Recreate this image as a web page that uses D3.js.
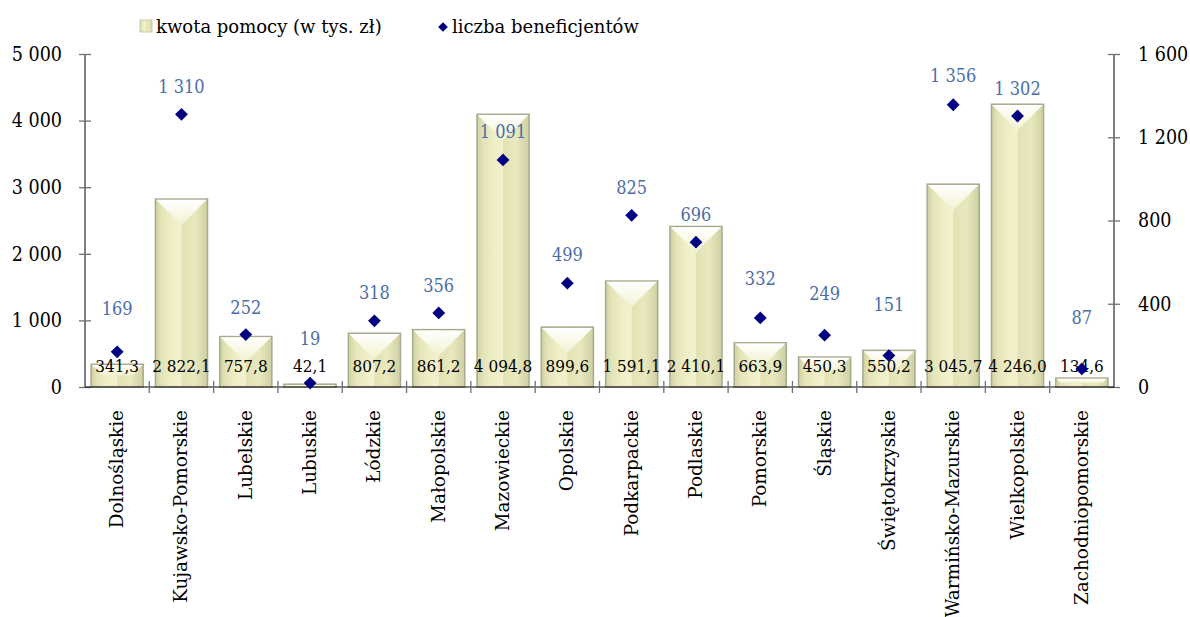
<!DOCTYPE html>
<html>
<head>
<meta charset="utf-8">
<script src="https://cdn.jsdelivr.net/npm/d3@7"></script>
<style>
  body { margin: 0; background: #fff; }
  text { font-family: "DejaVu Serif", serif; }
  .num { font-family: "DejaVu Serif Condensed", "DejaVu Serif", serif; }
</style>
</head>
<body>
<div id="chart"></div>
<script>
// Chart data
var regions = ["Dolnośląskie", "Kujawsko-Pomorskie", "Lubelskie", "Lubuskie", "Łódzkie", "Małopolskie",
  "Mazowieckie", "Opolskie", "Podkarpackie", "Podlaskie", "Pomorskie", "Śląskie",
  "Świętokrzyskie", "Warmińsko-Mazurskie", "Wielkopolskie", "Zachodniopomorskie"];
var amounts = [341.3, 2822.1, 757.8, 42.1, 807.2, 861.2, 4094.8, 899.6, 1591.1, 2410.1, 663.9, 450.3, 550.2, 3045.7, 4246.0, 134.6];
var beneficiaries = [169, 1310, 252, 19, 318, 356, 1091, 499, 825, 696, 332, 249, 151, 1356, 1302, 87];
var leftTicks = [0, 1000, 2000, 3000, 4000, 5000];
var rightTicks = [0, 400, 800, 1200, 1600];
var seriesNames = ["kwota pomocy (w tys. zł)", "liczba beneficjentów"];

// how far each blue label sits above its marker (labels were dragged by hand in the original)
var labelLift = [44, 28, 28, 45, 29, 28, 29, 29, 28, 28, 40, 42, 52, 30, 28, 52];

var svgWidth = 1190;
var svgHeight = 617;
var plotLeft = 85, plotRight = 1114, plotTop = 54, plotBottom = 387;

var pl = d3.formatLocale({ decimal: ",", thousands: "\u00a0", grouping: [3], currency: ["", " zł"] });
var fmtInt = pl.format(",d");
var fmt1 = pl.format(",.1f");

var svg = d3.select("#chart")
  .append("svg")
  .attr("width", svgWidth)
  .attr("height", svgHeight);

var defs = svg.append("defs");

// bar side shading
var barGrad = defs.append("linearGradient").attr("id", "barGrad");
[[0, "#d0d0a2"], [0.12, "#e4e4b8"], [0.3, "#eeeec6"], [0.49, "#f1f1cd"], [0.51, "#e2e2b5"], [0.75, "#e9e9bf"], [1, "#cfcfa2"]]
  .forEach(function (s) {
    barGrad.append("stop").attr("offset", s[0]).attr("stop-color", s[1]);
  });

// top bevel
var topGrad = defs.append("linearGradient").attr("id", "topGrad")
  .attr("x1", 0).attr("y1", 0).attr("x2", 0).attr("y2", 1);
topGrad.append("stop").attr("offset", 0).attr("stop-color", "#ffffff");
topGrad.append("stop").attr("offset", 1).attr("stop-color", "#f2f2d2");

var xScale = d3.scaleBand()
  .domain(regions)
  .range([plotLeft, plotRight])
  .paddingInner(0.19)
  .paddingOuter(0.095);

var yLeft = d3.scaleLinear().domain([0, 5000]).range([plotBottom, plotTop]);
var yRight = d3.scaleLinear().domain([0, 1600]).range([plotBottom, plotTop]);

var step = xScale.step();
var bw = xScale.bandwidth();

// bars
var bars = svg.append("g").selectAll("g")
  .data(amounts)
  .enter()
  .append("g");

bars.append("rect")
  .attr("x", function (d, i) { return xScale(regions[i]); })
  .attr("y", function (d) { return yLeft(d); })
  .attr("width", bw)
  .attr("height", function (d) { return plotBottom - yLeft(d); })
  .attr("fill", "url(#barGrad)")
  .attr("stroke", "#a9a98f")
  .attr("stroke-width", 1.5);

bars.append("polygon")
  .attr("points", function (d, i) {
    var x0 = xScale(regions[i]) + 0.8;
    var y0 = yLeft(d) + 0.8;
    var w = bw - 1.6;
    var h = plotBottom - yLeft(d);
    var dd = Math.min(w / 2, h * 0.45);
    return [[x0, y0], [x0 + w, y0], [x0 + w - dd, y0 + dd], [x0 + dd, y0 + dd]].join(" ");
  })
  .attr("fill", "url(#topGrad)");

// bar value labels
svg.append("g").selectAll("text")
  .data(amounts)
  .enter()
  .append("text")
  .classed("num", true)
  .attr("x", function (d, i) { return xScale(regions[i]) + bw / 2; })
  .attr("y", 372)
  .attr("text-anchor", "middle")
  .attr("font-size", 17)
  .attr("fill", "#000")
  .text(function (d) { return fmt1(d); });

// axes
var leftAxis = d3.axisLeft(yLeft).tickValues(leftTicks).tickFormat(fmtInt).tickSize(6).tickPadding(17);
var rightAxis = d3.axisRight(yRight).tickValues(rightTicks).tickFormat(fmtInt).tickSize(6).tickPadding(18);

var gl = svg.append("g")
  .attr("transform", `translate(${plotLeft}, 0)`)
  .call(leftAxis);
var gr = svg.append("g")
  .attr("transform", `translate(${plotRight}, 0)`)
  .call(rightAxis);

[gl, gr].forEach(function (g) {
  g.select(".domain").attr("stroke", "#000").attr("d", `M0,${plotTop}V${plotBottom}`);
  g.selectAll(".tick line").attr("x1", -6).attr("x2", 6).attr("stroke", "#707070").attr("stroke-width", 1.3);
  g.selectAll(".tick text").attr("class", "num").attr("font-family", null).attr("font-size", 19.5).attr("fill", "#000");
});

// category axis
svg.append("line")
  .attr("x1", plotLeft).attr("x2", plotRight)
  .attr("y1", plotBottom).attr("y2", plotBottom)
  .attr("stroke", "#000");

svg.append("g").selectAll("line")
  .data(regions.slice(1))
  .enter()
  .append("line")
  .attr("x1", function (d) { return xScale(d) - step * 0.095; })
  .attr("x2", function (d) { return xScale(d) - step * 0.095; })
  .attr("y1", plotBottom - 6)
  .attr("y2", plotBottom + 6)
  .attr("stroke", "#707070")
  .attr("stroke-width", 1.3);

svg.append("g").selectAll("text")
  .data(regions)
  .enter()
  .append("text")
  .attr("transform", function (d) { return `translate(${xScale(d) + bw / 2 + 6}, 410) rotate(-90)`; })
  .attr("text-anchor", "end")
  .attr("font-size", 18.4)
  .attr("fill", "#000")
  .text(function (d) { return d; });

// beneficiaries markers
svg.append("g").selectAll("path")
  .data(beneficiaries)
  .enter()
  .append("path")
  .attr("d", d3.symbol().type(d3.symbolDiamond2).size(105))
  .attr("transform", function (d, i) {
    return `translate(${xScale(regions[i]) + bw / 2}, ${yRight(d)})`;
  })
  .attr("fill", "#000080");

svg.append("g").selectAll("text")
  .data(beneficiaries)
  .enter()
  .append("text")
  .classed("num", true)
  .attr("x", function (d, i) { return xScale(regions[i]) + bw / 2; })
  .attr("y", function (d, i) { return yRight(d) - labelLift[i] + 7; })
  .attr("text-anchor", "middle")
  .attr("font-size", 18)
  .attr("fill", "#4a6ea8")
  .text(function (d) { return fmtInt(d); });

// legend
var legend = svg.append("g");
legend.append("rect")
  .attr("x", 140).attr("y", 20)
  .attr("width", 12).attr("height", 12)
  .attr("fill", "url(#barGrad)")
  .attr("stroke", "#c9c9b0");
legend.append("text")
  .attr("x", 156).attr("y", 33)
  .attr("font-size", 18)
  .text(seriesNames[0]);
legend.append("path")
  .attr("d", d3.symbol().type(d3.symbolDiamond2).size(60))
  .attr("transform", "translate(443, 27)")
  .attr("fill", "#000080");
legend.append("text")
  .attr("x", 452).attr("y", 33)
  .attr("font-size", 18)
  .text(seriesNames[1]);
</script>
</body>
</html>
